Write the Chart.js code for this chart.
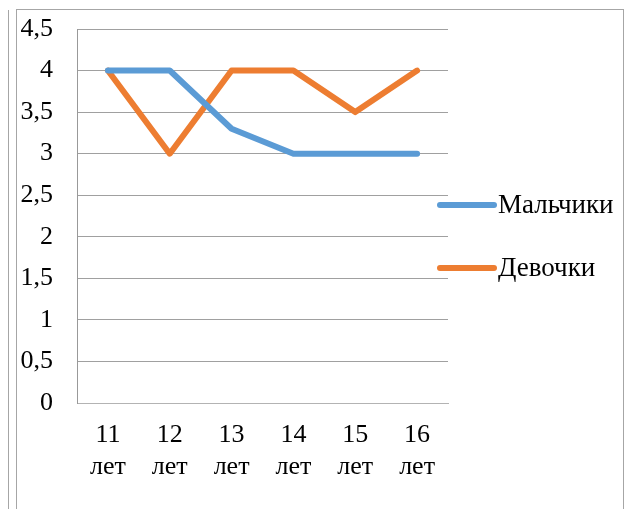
<!DOCTYPE html>
<html>
<head>
<meta charset="utf-8">
<script src="https://cdn.jsdelivr.net/npm/chart.js@4.4.0/dist/chart.umd.min.js"></script>
<style>
  html, body { margin: 0; padding: 0; background: #fff; }
  #wrap { position: relative; width: 629px; height: 509px; overflow: hidden; }
  #l1 { position: absolute; left: 8px; top: 10px; bottom: 0; border-left: 1px solid #a6a6a6; }
  #frame { position: absolute; left: 16px; top: 9px; width: 606px; height: 520px;
           border-left: 1px solid #a6a6a6; border-top: 1px solid #a6a6a6; border-right: 1px solid #a6a6a6; }
  canvas { position: absolute; left: 0; top: 0; }
</style>
</head>
<body>
<div id="wrap">
  <div id="l1"></div>
  <div id="frame"></div>
  <canvas id="c" width="629" height="509"></canvas>
</div>
<script>
const categories = [["11", "лет"], ["12", "лет"], ["13", "лет"], ["14", "лет"], ["15", "лет"], ["16", "лет"]];
const boys = [4, 4, 3.3, 3, 3, 3];
const girls = [4, 3, 4, 4, 3.5, 4];
const seriesNames = ["Мальчики", "Девочки"];
const seriesColors = ["#5B9BD5", "#ED7D31"];

const FONT = "'Liberation Serif', 'Times New Roman', serif";

const legendPlugin = {
  id: 'sideLegend',
  afterDraw(chart) {
    const ctx = chart.ctx;
    const area = chart.chartArea;
    const ys = [205, 268];
    ctx.save();
    chart.data.datasets.forEach((ds, i) => {
      const y = ys[i];
      const x0 = area.right - 8;
      ctx.strokeStyle = ds.borderColor;
      ctx.lineWidth = 6;
      ctx.lineCap = 'round';
      ctx.beginPath();
      ctx.moveTo(x0, y);
      ctx.lineTo(x0 + 54, y);
      ctx.stroke();
      ctx.fillStyle = '#000';
      ctx.font = "27px " + FONT;
      ctx.textBaseline = 'middle';
      ctx.textAlign = 'left';
      ctx.fillText(ds.label, x0 + 58, y + 1);
    });
    ctx.restore();
  }
};

new Chart(document.getElementById('c'), {
  type: 'line',
  data: {
    labels: categories,
    datasets: [
      { label: seriesNames[0], data: boys, borderColor: seriesColors[0], backgroundColor: seriesColors[0] },
      { label: seriesNames[1], data: girls, borderColor: seriesColors[1], backgroundColor: seriesColors[1] }
    ]
  },
  options: {
    responsive: false,
    animation: false,
    devicePixelRatio: 1,
    layout: { padding: { left: 0, top: 29, right: 181, bottom: 0 } },
    elements: {
      line: { tension: 0, borderWidth: 6, borderCapStyle: 'round', borderJoinStyle: 'round' },
      point: { radius: 0, hoverRadius: 0 }
    },
    plugins: { legend: { display: false }, tooltip: { enabled: false } },
    scales: {
      x: {
        offset: true,
        grid: { display: false, drawTicks: false },
        border: { display: true, color: '#b3b3b3', width: 1 },
        ticks: { color: '#000', font: { family: FONT, size: 26, lineHeight: 1.2 }, padding: 17, maxRotation: 0, autoSkip: false },
        afterFit(scale) { scale.height = 106; scale.paddingLeft = 0; scale.paddingRight = 0; }
      },
      y: {
        min: 0, max: 4.5,
        grid: { color: '#a0a0a0', lineWidth: 1, drawTicks: false },
        border: { display: true, color: '#999999', width: 1 },
        ticks: {
          stepSize: 0.5, color: '#000', padding: 24,
          font: { family: FONT, size: 26 },
          callback: (v) => String(v).replace('.', ',')
        },
        afterFit(scale) { scale.width = 77; scale.paddingTop = 0; scale.paddingBottom = 0; }
      }
    }
  },
  plugins: [legendPlugin]
});
</script>
</body>
</html>
